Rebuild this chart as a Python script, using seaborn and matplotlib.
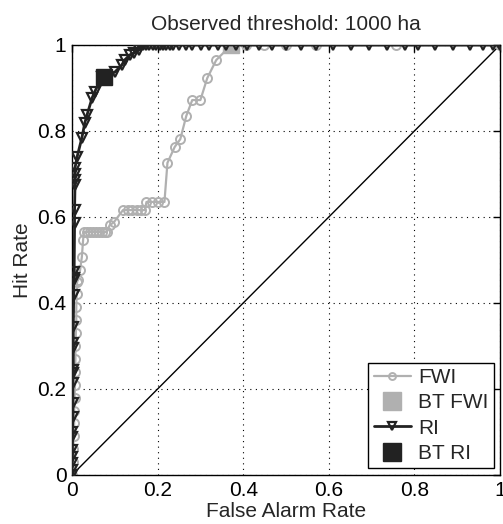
import numpy as np
import pandas as pd
import seaborn as sns
import matplotlib
matplotlib.use("Agg")
import matplotlib.pyplot as plt
from matplotlib.lines import Line2D

# ROC curve for the FWI index (false alarm rate, hit rate)
fwi_far = [0.0, 0.002, 0.003, 0.004, 0.005, 0.005, 0.006, 0.007, 0.007, 0.008, 0.008,
           0.009, 0.010, 0.010, 0.011, 0.012, 0.014, 0.019, 0.023, 0.026,
           0.028, 0.035, 0.042, 0.049, 0.056, 0.063, 0.070, 0.077, 0.081,
           0.088, 0.098, 0.119, 0.130, 0.141, 0.152, 0.162, 0.170,
           0.174, 0.188, 0.202, 0.216,
           0.223, 0.240, 0.253, 0.267, 0.281, 0.300, 0.316, 0.337, 0.372,
           0.407, 0.449, 0.500, 0.570, 0.756, 1.0]
fwi_hr = [0.0, 0.03, 0.06, 0.09, 0.12, 0.15, 0.18, 0.21, 0.24, 0.27, 0.30,
          0.33, 0.36, 0.39, 0.42, 0.45, 0.453, 0.477, 0.507, 0.547,
          0.565, 0.565, 0.565, 0.565, 0.565, 0.565, 0.565, 0.565, 0.565,
          0.581, 0.588, 0.616, 0.616, 0.616, 0.616, 0.616, 0.616,
          0.635, 0.635, 0.635, 0.635,
          0.726, 0.763, 0.781, 0.835, 0.872, 0.872, 0.923, 0.965, 1.0,
          1.0, 1.0, 1.0, 1.0, 1.0, 1.0]

# ROC curve for the RI index
ri_far = [0.0, 0.0, 0.0, 0.001, 0.001, 0.001, 0.001, 0.002, 0.002, 0.002, 0.002,
          0.003, 0.003, 0.003, 0.003, 0.004, 0.004, 0.005, 0.005, 0.006,
          0.006, 0.007, 0.007, 0.007, 0.007, 0.012, 0.023, 0.030, 0.035, 0.047,
          0.053, 0.070, 0.100, 0.116, 0.123, 0.135, 0.144, 0.156,
          0.158, 0.166, 0.174, 0.181, 0.189, 0.197, 0.205, 0.212, 0.220,
          0.228, 0.235, 0.251, 0.267, 0.281, 0.302, 0.321, 0.340, 0.360,
          0.384, 0.409, 0.437, 0.467, 0.500, 0.535, 0.570, 0.609, 0.651,
          0.693, 0.735, 0.779, 0.809, 0.849, 0.891, 0.930, 0.960, 0.984, 1.0]
ri_hr = [0.0, 0.012, 0.028, 0.042, 0.058, 0.088, 0.100, 0.135, 0.167, 0.214, 0.237,
         0.244, 0.295, 0.307, 0.344, 0.419, 0.453, 0.458, 0.472, 0.586,
         0.616, 0.674, 0.686, 0.700, 0.714, 0.740, 0.784, 0.819, 0.837, 0.877,
         0.891, 0.926, 0.937, 0.953, 0.965, 0.977, 0.981, 0.988,
         1.0, 1.0, 1.0, 1.0, 1.0, 1.0, 1.0, 1.0, 1.0,
         1.0, 1.0, 1.0, 1.0, 1.0, 1.0, 1.0, 1.0, 1.0,
         1.0, 1.0, 1.0, 1.0, 1.0, 1.0, 1.0, 1.0, 1.0,
         1.0, 1.0, 1.0, 1.0, 1.0, 1.0, 1.0, 1.0, 1.0, 1.0]

# best thresholds
bt_fwi = (0.372, 1.0)
bt_ri = (0.075, 0.926)

ticks = [0, 0.2, 0.4, 0.6, 0.8, 1]
tick_labels = ["0", "0.2", "0.4", "0.6", "0.8", "1"]
legend_labels = ["FWI", "BT FWI", "RI", "BT RI"]

GRAY = "#b0b0b0"
DARK = "#222222"

sns.set_style("white")
plt.rcParams["font.family"] = ["Liberation Sans", "DejaVu Sans"]
plt.rcParams["font.size"] = 15

fig = plt.figure(figsize=(5.03, 5.24), dpi=100)
ax = fig.add_axes([72 / 503, 49 / 524, 428 / 503, 430 / 524])

df_fwi = pd.DataFrame({"far": fwi_far, "hr": fwi_hr})
df_ri = pd.DataFrame({"far": ri_far, "hr": ri_hr})

# no-skill diagonal
ax.plot([0, 1], [0, 1], color="black", lw=1.0, zorder=1)

sns.lineplot(data=df_fwi, x="far", y="hr", ax=ax, sort=False, estimator=None,
             color=GRAY, lw=1.6, marker="o", markersize=6.5, markerfacecolor="none",
             markeredgecolor=GRAY, markeredgewidth=1.4, zorder=2)
ax.plot(*bt_fwi, marker="s", markersize=12, color=GRAY, ls="none", zorder=3)
sns.lineplot(data=df_ri, x="far", y="hr", ax=ax, sort=False, estimator=None,
             color=DARK, lw=2.0, marker="v", markersize=6.5, markerfacecolor="none",
             markeredgecolor=DARK, markeredgewidth=1.6, zorder=4)
ax.plot(*bt_ri, marker="s", markersize=12, color=DARK, ls="none", zorder=5)

ax.set_xlim(0, 1)
ax.set_ylim(0, 1)
ax.set_xticks(ticks)
ax.set_xticklabels(tick_labels)
ax.set_yticks(ticks)
ax.set_yticklabels(tick_labels)
ax.grid(True, color="black", ls=(0, (1, 4)), lw=0.8)
ax.tick_params(direction="in", length=5, width=1, top=True, right=True,
               labelsize=15, pad=4, colors="black")
for sp in ax.spines.values():
    sp.set_color("black")
    sp.set_linewidth(1.0)

ax.set_xlabel("False Alarm Rate", fontsize=15, labelpad=2)
ax.set_ylabel("Hit Rate", fontsize=15, labelpad=4)
ax.set_title("Observed threshold: 1000 ha", fontsize=15, pad=11)

handles = [
    Line2D([], [], color=GRAY, lw=1.6, marker="o", markersize=5,
           markerfacecolor="none", markeredgecolor=GRAY, markeredgewidth=1.4),
    Line2D([], [], color=GRAY, ls="none", marker="s", markersize=13),
    Line2D([], [], color=DARK, lw=2.0, marker="v", markersize=5.5,
           markerfacecolor="none", markeredgecolor=DARK, markeredgewidth=1.6),
    Line2D([], [], color=DARK, ls="none", marker="s", markersize=13),
]
leg = ax.legend(handles, legend_labels, loc="lower right",
                bbox_to_anchor=(0.986, 0.016), borderaxespad=0, fontsize=15,
                fancybox=False, framealpha=1, edgecolor="black",
                handlelength=1.8, handletextpad=0.35, labelspacing=0.3,
                borderpad=0.25)
leg.get_frame().set_linewidth(1.0)

fig.savefig("out.png", dpi=100)
